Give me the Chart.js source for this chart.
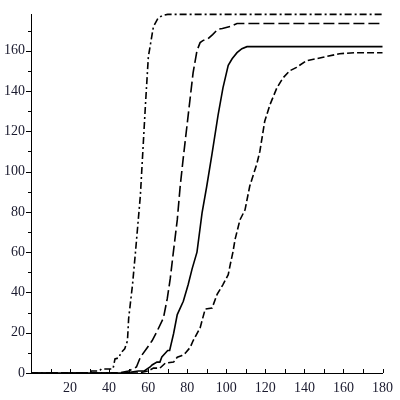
<!DOCTYPE html>
<html>
<head>
<meta charset="utf-8">
<script src="https://cdn.jsdelivr.net/npm/chart.js@4/dist/chart.umd.min.js"></script>
<style>
html,body{margin:0;padding:0;background:#fff;}
#wrap{width:400px;height:400px;}
</style>
</head>
<body>
<div id="wrap"><canvas id="c" width="400" height="400"></canvas></div>
<script>
// Series A (dash-dot)
const xA = [0,30,31,35,36,42,43,45,46,48,49.4,50,52,53.5,56,58.6,60.1,62.7,65,67.3,70,180];
const yA = [0,0,1,1,2,2,7,7.5,10,12,16,27,44,60,88,133,157,172,176,177.5,178,178];
// Series B (dashed)
const xB = [0,45,50,54,56,59.6,62,64.7,67.8,69.8,71.3,72.9,74.9,76.4,78,80.5,83,85,86.6,88,90.7,93,95.8,98,102,105.5,180];
const yB = [0,0,1,3,7.8,12.7,16,21,27.3,37,46.8,60,76,92.7,107,128,149,160,164,165,166,168,170.7,171,172,173.5,173.5];
// Series C (solid)
const xC = [0,48,55,58,61,62,64.5,66,67,70,71,73,74.9,78,80.5,82.5,85,87.6,90,92.7,95.8,98.3,101,103,105.5,108,110.6,180];
const yC = [0,0,1,1,3,4,5.4,5.4,8,11.2,11.2,19.5,29,35.6,43.9,51.7,60,79.5,92.7,108.8,128,141.5,152.7,156,159,161,162,162];
// Series D (long dash)
const xD = [0,55,60,62.7,66,68.8,73,74.9,77,79,81.5,83,86.6,89.2,92.7,95.3,98.3,101,102,103.4,104.5,107,109.6,112,115.7,117.2,119.7,122.3,125.9,128.9,132.5,136,141,149,158,166.6,180];
const yD = [0,0,1,2.4,2.4,4.9,5.4,7.8,8.5,9.8,12.7,16,22.4,31.7,32.2,39,43.9,48.8,53.7,60,66.3,76,81,92.7,104,110,125,133,141.5,146.3,150,151.7,155,156.6,158.5,159,159];

const xTickLabels = [20,40,60,80,100,120,140,160,180];
const yTickLabels = [0,20,40,60,80,100,120,140,160];

function pts(xs, ys){ return xs.map((x,i)=>({x:x,y:ys[i]})); }

const tickPlugin = {
  id:'ticks',
  afterDraw(chart){
    const ctx = chart.ctx, xs = chart.scales.x, ys = chart.scales.y;
    ctx.save();
    ctx.strokeStyle = '#000';
    ctx.lineWidth = 1;
    const yb = ys.getPixelForValue(0);
    const xl = xs.getPixelForValue(0);
    ctx.beginPath();
    for(let v=10; v<=180; v+=10){
      const px = Math.round(xs.getPixelForValue(v))+0.5;
      ctx.moveTo(px, yb); ctx.lineTo(px, yb-4);
    }
    for(let v=0; v<=170; v+=10){
      const py = Math.round(ys.getPixelForValue(v))+0.5;
      const len = yTickLabels.includes(v) ? 5 : 3;
      ctx.moveTo(xl, py); ctx.lineTo(xl-len, py);
    }
    ctx.stroke();
    ctx.restore();
  }
};

const common = {pointRadius:0, borderColor:'#000', fill:false, tension:0, clip:false};
new Chart(document.getElementById('c'), {
  type:'line',
  data:{
    datasets:[
      Object.assign({label:'A', data:pts(xA,yA), borderWidth:1.6, borderDash:[7,3,2,3]}, common),
      Object.assign({label:'B', data:pts(xB,yB), borderWidth:1.6, borderDash:[11,4]}, common),
      Object.assign({label:'C', data:pts(xC,yC), borderWidth:1.6}, common),
      Object.assign({label:'D', data:pts(xD,yD), borderWidth:1.6, borderDash:[7,3]}, common)
    ]
  },
  options:{
    responsive:false,
    animation:false,
    layout:{padding:{top:8,right:17,left:0,bottom:0}},
    plugins:{legend:{display:false}, tooltip:{enabled:false}},
    scales:{
      x:{
        type:'linear', min:0, max:180,
        grid:{display:false, drawTicks:false},
        border:{display:true, color:'#000', width:1},
        afterFit(s){ s.height = 27; },
        ticks:{
          stepSize:20, autoSkip:false, maxRotation:0, padding:7,
          color:'#1a1a2e',
          font:{family:'Liberation Serif', size:14},
          callback:(v)=> xTickLabels.includes(v) ? String(v) : ''
        }
      },
      y:{
        type:'linear', min:0, max:178,
        grid:{display:false, drawTicks:false},
        border:{display:true, color:'#000', width:1},
        afterFit(s){ s.width = 31; },
        ticks:{
          stepSize:20, autoSkip:false, padding:6,
          color:'#1a1a2e',
          font:{family:'Liberation Serif', size:14},
          callback:(v)=> yTickLabels.includes(v) ? String(v) : ''
        }
      }
    }
  },
  plugins:[tickPlugin]
});
</script>
</body>
</html>
